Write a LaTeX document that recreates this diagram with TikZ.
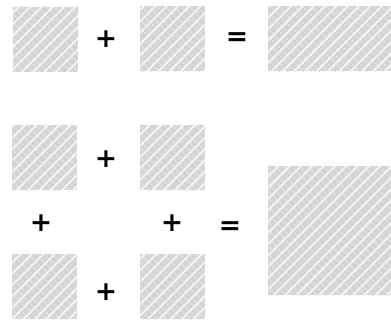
\documentclass[tikz,border=0pt]{standalone}
\usepackage{fontspec}
\setmainfont{Liberation Sans}
\newfontfamily\opfont{DejaVu Sans}
\usetikzlibrary{patterns.meta,positioning}

\begin{document}
\begin{tikzpicture}[x=0.75pt,y=-0.75pt]
  \tikzset{
    tile/.style={rectangle,inner sep=0pt,draw=none,
      preaction={fill=black!17},
      preaction={pattern={Lines[angle=-45,distance=4pt,line width=0.7pt]},pattern color=black!10},
      pattern={Lines[angle=45,distance=6pt,line width=1.4pt]},pattern color=black!4,
      minimum width=48.75pt,minimum height=48.75pt,anchor=north west},
    op/.style={font=\opfont\fontsize{20}{22}\selectfont\bfseries,inner sep=0pt},
  }
  \useasboundingbox[fill=white] (0,0) rectangle (391,320);

  % first row: a + b = ab
  \node[tile] (a) at (12,6) {};
  \node[tile] (b) at (140,6) {};
  \node[tile,minimum width=92.25pt] (ab) at (268,6) {};
  \node[op] (p1) at (106,39) {+};
  \node[op] (e1) at (237,39) {=};

  % second block: four tiles add up to one
  \node[tile] (c1) at (12,125) {};
  \node[tile] (c2) at (140,125) {};
  \node[tile] (c3) at (12,254) {};
  \node[tile] (c4) at (140,254) {};
  \node[tile,minimum width=92.25pt,minimum height=96.75pt] (sum) at (268,166) {};
  \node[op] (p2) at (106,159) {+};
  \node[op] (p3) at (41,223) {+};
  \node[op] (p4) at (172,223) {+};
  \node[op] (p5) at (106,292) {+};
  \node[op] (e2) at (230,228) {=};
\end{tikzpicture}
\end{document}
